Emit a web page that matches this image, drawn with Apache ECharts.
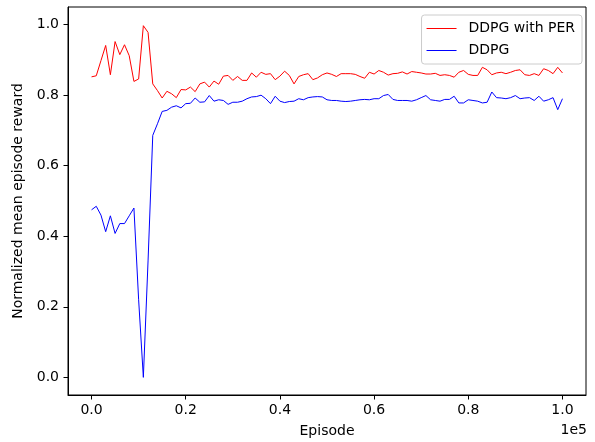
<!DOCTYPE html>
<html>
<head>
<meta charset="utf-8">
<script src="https://cdn.jsdelivr.net/npm/echarts@6/dist/echarts.min.js"></script>
<style>
  html, body { margin: 0; padding: 0; background: #fff; }
  #chart { width: 595px; height: 442px; }
</style>
</head>
<body>
<div id="chart"></div>
<script>
// Training episodes (one evaluation every 1000 episodes)
const episodes = [
  0, 1000, 2000, 3000, 4000, 5000, 6000, 7000, 8000, 9000,
  10000, 11000, 12000, 13000, 14000, 15000, 16000, 17000, 18000, 19000,
  20000, 21000, 22000, 23000, 24000, 25000, 26000, 27000, 28000, 29000,
  30000, 31000, 32000, 33000, 34000, 35000, 36000, 37000, 38000, 39000,
  40000, 41000, 42000, 43000, 44000, 45000, 46000, 47000, 48000, 49000,
  50000, 51000, 52000, 53000, 54000, 55000, 56000, 57000, 58000, 59000,
  60000, 61000, 62000, 63000, 64000, 65000, 66000, 67000, 68000, 69000,
  70000, 71000, 72000, 73000, 74000, 75000, 76000, 77000, 78000, 79000,
  80000, 81000, 82000, 83000, 84000, 85000, 86000, 87000, 88000, 89000,
  90000, 91000, 92000, 93000, 94000, 95000, 96000, 97000, 98000, 99000,
  100000
];

// Normalized mean episode reward, DDPG with prioritized experience replay
const rewardPER = [
  0.852, 0.855, 0.898, 0.941, 0.858, 0.952, 0.915, 0.943, 0.912, 0.839,
  0.846, 0.997, 0.978, 0.832, 0.813, 0.792, 0.811, 0.804, 0.793, 0.816,
  0.815, 0.823, 0.810, 0.832, 0.837, 0.823, 0.840, 0.831, 0.854, 0.856,
  0.842, 0.853, 0.842, 0.842, 0.863, 0.851, 0.865, 0.859, 0.861, 0.844,
  0.854, 0.868, 0.856, 0.832, 0.853, 0.858, 0.861, 0.844, 0.849, 0.858,
  0.863, 0.859, 0.853, 0.861, 0.861, 0.861, 0.859, 0.853, 0.848, 0.865,
  0.860, 0.870, 0.865, 0.857, 0.861, 0.862, 0.866, 0.860, 0.867, 0.865,
  0.863, 0.860, 0.860, 0.862, 0.856, 0.858, 0.856, 0.851, 0.865, 0.870,
  0.859, 0.856, 0.856, 0.879, 0.872, 0.858, 0.863, 0.865, 0.861, 0.865,
  0.870, 0.872, 0.858, 0.856, 0.861, 0.856, 0.875, 0.870, 0.861, 0.879,
  0.863
];

// Normalized mean episode reward, plain DDPG
const rewardDDPG = [
  0.475, 0.485, 0.460, 0.413, 0.458, 0.408, 0.436, 0.436, 0.458, 0.480,
  0.220, 0.000, 0.330, 0.686, 0.719, 0.754, 0.757, 0.766, 0.770, 0.764,
  0.776, 0.777, 0.792, 0.780, 0.781, 0.799, 0.783, 0.787, 0.785, 0.774,
  0.780, 0.780, 0.783, 0.790, 0.795, 0.796, 0.800, 0.790, 0.776, 0.797,
  0.783, 0.779, 0.782, 0.783, 0.790, 0.787, 0.793, 0.795, 0.796, 0.795,
  0.787, 0.785, 0.785, 0.783, 0.782, 0.783, 0.785, 0.787, 0.788, 0.787,
  0.790, 0.790, 0.799, 0.802, 0.788, 0.785, 0.785, 0.785, 0.783, 0.787,
  0.793, 0.799, 0.787, 0.785, 0.783, 0.788, 0.788, 0.797, 0.778, 0.778,
  0.787, 0.785, 0.783, 0.778, 0.780, 0.809, 0.793, 0.792, 0.790, 0.793,
  0.799, 0.790, 0.792, 0.793, 0.785, 0.797, 0.783, 0.787, 0.793, 0.759,
  0.790
];

const seriesNames = ['DDPG with PER', 'DDPG'];
const xTicks = [0, 20000, 40000, 60000, 80000, 100000];
const yTicks = [0, 0.2, 0.4, 0.6, 0.8, 1.0];

const FONT = 'DejaVu Sans';
const FS = 14;

const chart = echarts.init(document.getElementById('chart'), null, { renderer: 'canvas' });

const axisCommon = {
  axisLine: { show: true, onZero: false, lineStyle: { color: '#000', width: 1 } },
  splitLine: { show: false },
  nameTextStyle: { color: '#000', fontFamily: FONT, fontSize: FS }
};

chart.setOption({
  animation: false,
  backgroundColor: '#fff',
  grid: {
    left: 68, right: 9, top: 7, bottom: 47,
    containLabel: false, outerBoundsMode: 'none',
    show: true, borderColor: '#000', borderWidth: 1, backgroundColor: 'transparent'
  },
  legend: {
    orient: 'vertical',
    right: 13, top: 15,
    data: seriesNames,
    icon: 'rect',
    itemWidth: 30, itemHeight: 1,
    itemGap: 7,
    padding: [6, 7, 6, 5],
    backgroundColor: 'rgba(255,255,255,0.8)',
    borderColor: '#cccccc', borderWidth: 1, borderRadius: 3,
    textStyle: { color: '#000', fontFamily: FONT, fontSize: FS, lineHeight: 15, padding: [0, 0, 0, 7] }
  },
  xAxis: Object.assign({}, axisCommon, {
    type: 'value',
    min: -5000, max: 105000,
    name: 'Episode', nameLocation: 'middle', nameGap: 29,
    axisTick: { show: true, inside: false, length: 4.5, customValues: xTicks, lineStyle: { color: '#000', width: 1 } },
    axisLabel: {
      customValues: xTicks, margin: 8,
      color: '#000', fontFamily: FONT, fontSize: FS,
      formatter: v => (v / 1e5).toFixed(1)
    }
  }),
  yAxis: Object.assign({}, axisCommon, {
    type: 'value',
    min: -0.05, max: 1.05,
    name: 'Normalized mean episode reward', nameLocation: 'middle', nameGap: 37,
    axisTick: { show: true, inside: false, length: 4.5, customValues: yTicks, lineStyle: { color: '#000', width: 1 } },
    axisLabel: {
      customValues: yTicks, margin: 9,
      color: '#000', fontFamily: FONT, fontSize: FS,
      formatter: v => v.toFixed(1)
    }
  }),
  graphic: [{
    type: 'text',
    right: 8, top: 423,
    style: { text: '1e5', fill: '#000', font: FS + 'px "' + FONT + '"' }
  }],
  series: [
    {
      name: seriesNames[0], type: 'line',
      data: episodes.map((e, i) => [e, rewardPER[i]]),
      symbol: 'none', color: '#ff0000',
      lineStyle: { color: '#ff0000', width: 1 }
    },
    {
      name: seriesNames[1], type: 'line',
      data: episodes.map((e, i) => [e, rewardDDPG[i]]),
      symbol: 'none', color: '#0000ff',
      lineStyle: { color: '#0000ff', width: 1 }
    }
  ]
});
</script>
</body>
</html>
